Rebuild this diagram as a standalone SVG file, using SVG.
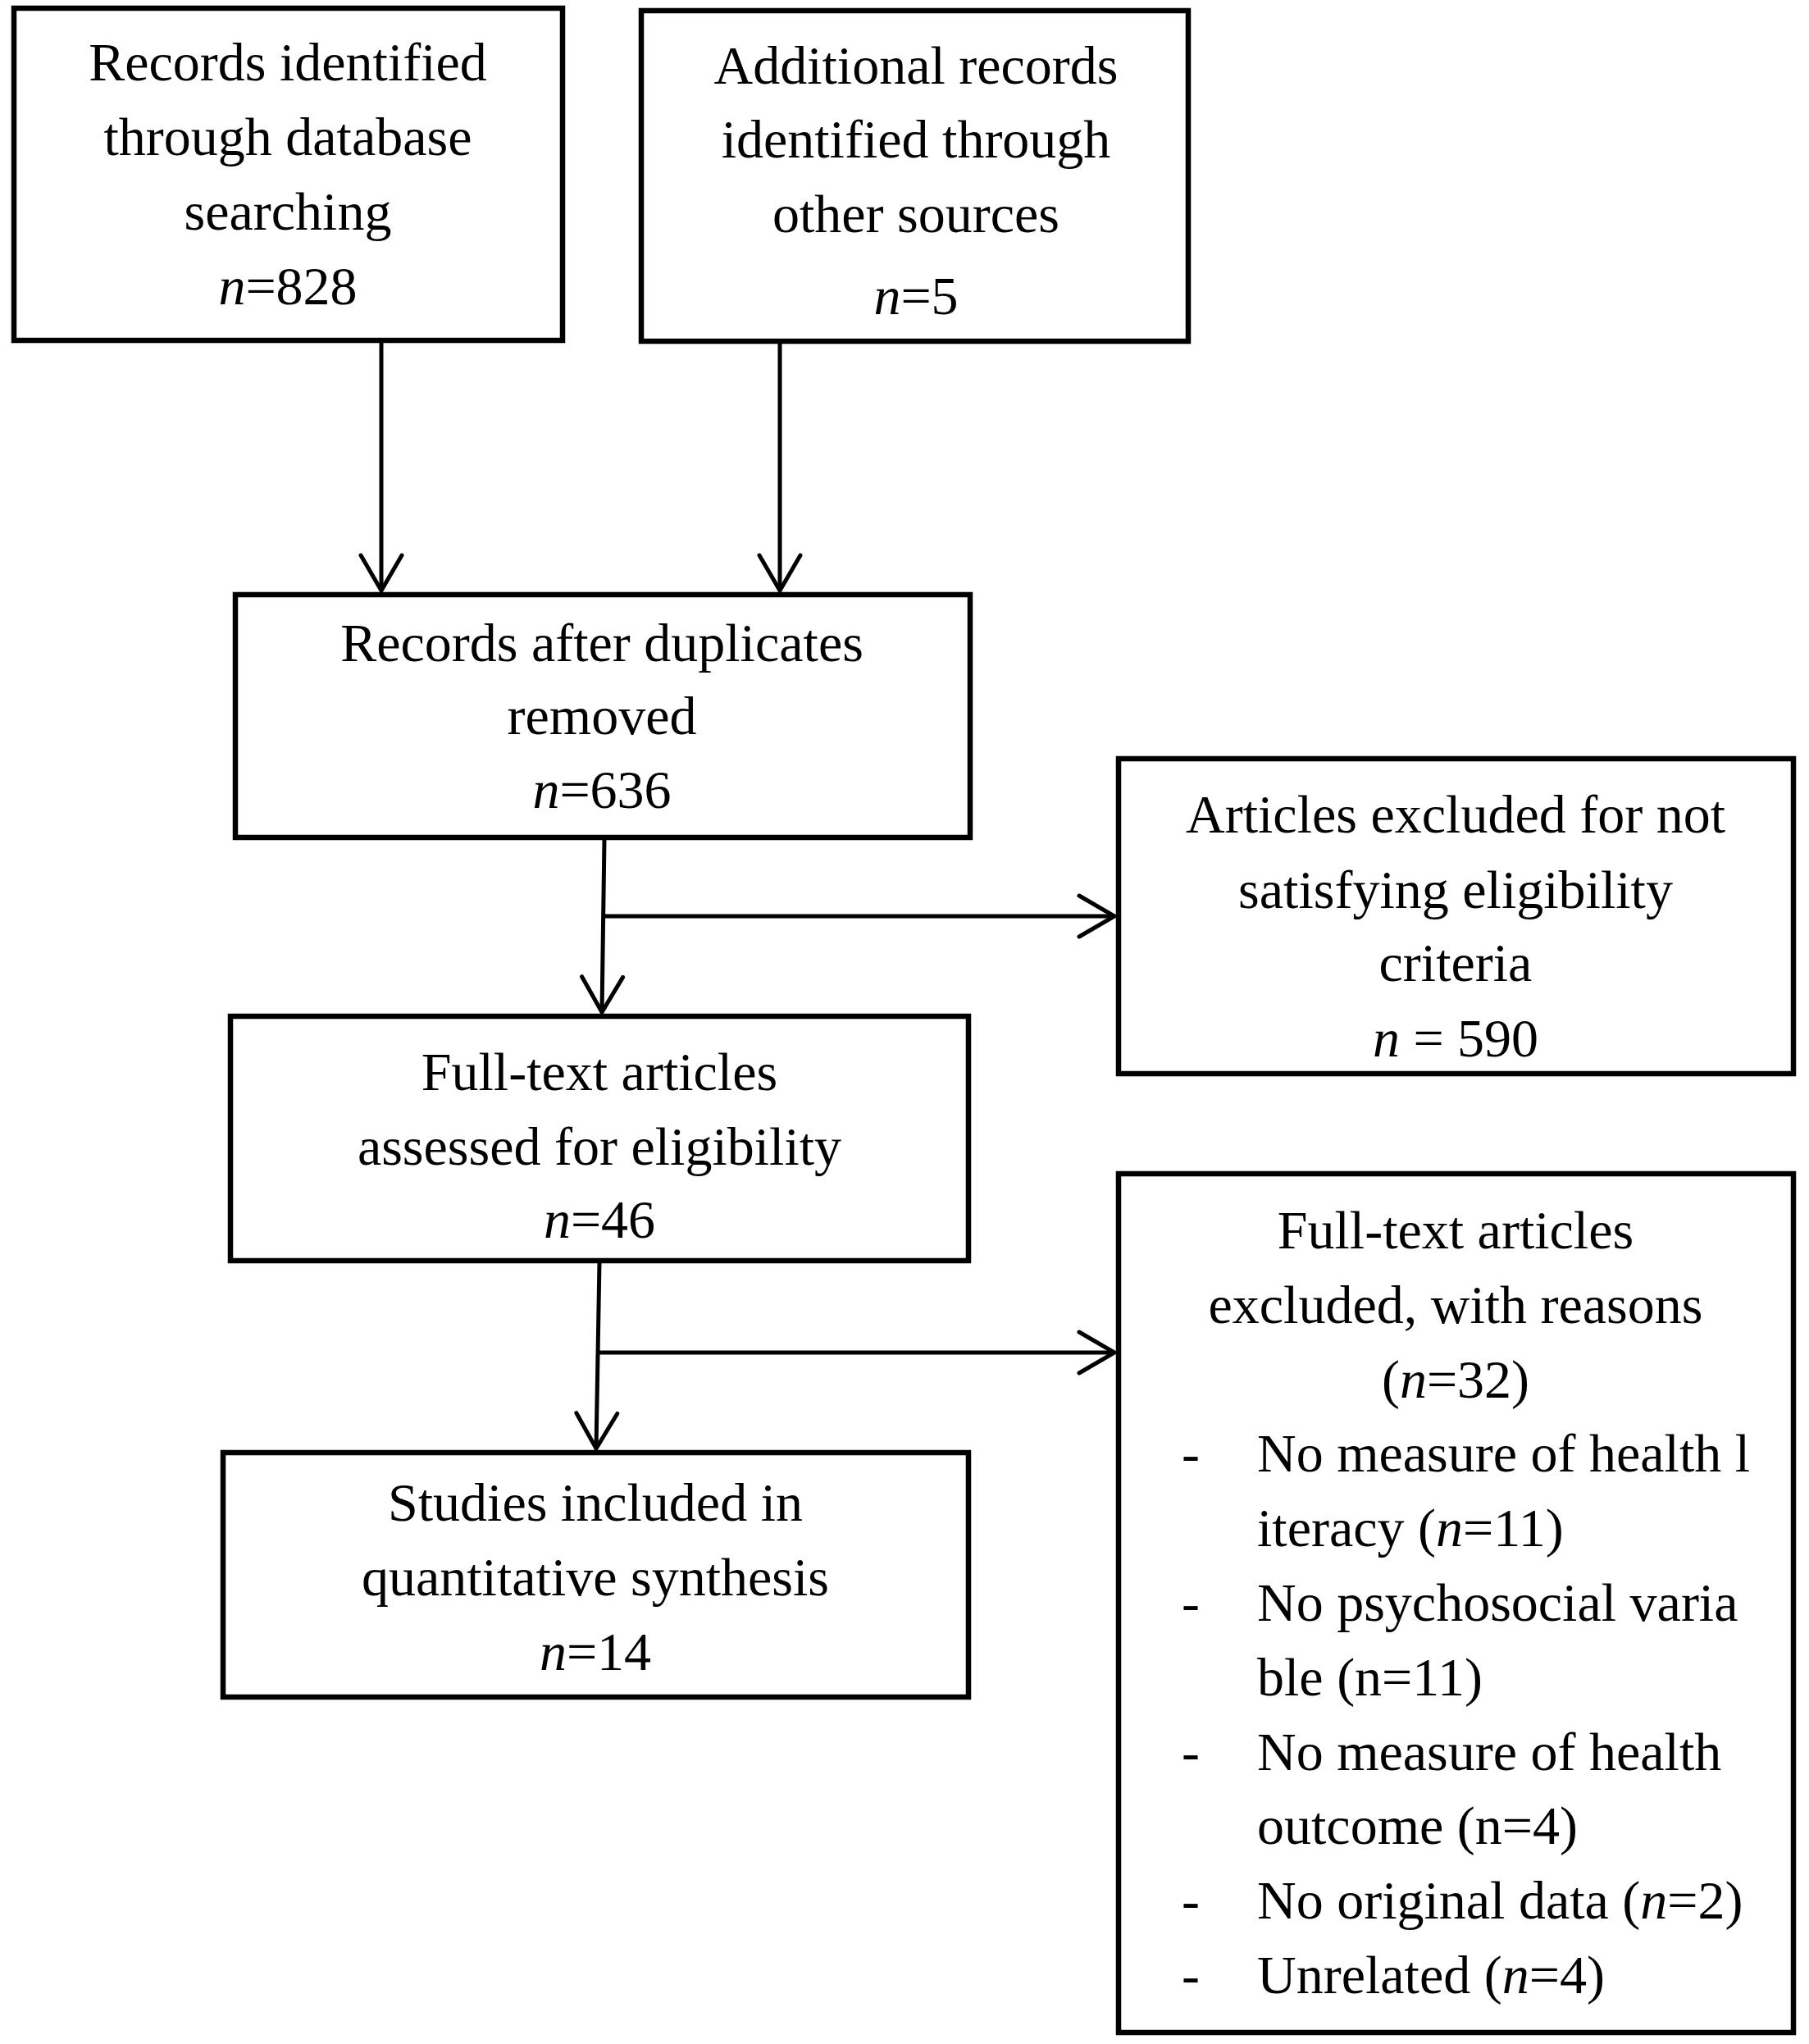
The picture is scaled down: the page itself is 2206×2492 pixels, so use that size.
<svg xmlns="http://www.w3.org/2000/svg" width="2206" height="2492" viewBox="0 0 2206 2492">
<style>
.box{fill:#fff;stroke:#000;stroke-width:6.5}
.t{font-family:"Liberation Serif","Times New Roman",serif;font-size:66px;fill:#000}
.c{text-anchor:middle}
.i{font-style:italic}
.ln{fill:none;stroke:#000;stroke-width:5}
</style>
<defs>
<marker id="ah" markerUnits="userSpaceOnUse" viewBox="-52 -30 60 60" refX="0" refY="0" markerWidth="60" markerHeight="60" orient="auto" overflow="visible">
<path d="M-43,-25 L0,0 L-43,25" fill="none" stroke="#000" stroke-width="5" stroke-linecap="round" stroke-linejoin="miter"/>
</marker>
</defs>
<rect width="2206" height="2492" fill="#fff"/>
<g id="connectors">
<line class="ln" x1="465" y1="418" x2="465" y2="720" marker-end="url(#ah)"/>
<line class="ln" x1="951" y1="418" x2="951" y2="720" marker-end="url(#ah)"/>
<line class="ln" x1="737" y1="1022" x2="734" y2="1234" marker-end="url(#ah)"/>
<line class="ln" x1="737" y1="1117" x2="1359" y2="1117" marker-end="url(#ah)"/>
<line class="ln" x1="731" y1="1538" x2="727" y2="1766" marker-end="url(#ah)"/>
<line class="ln" x1="730" y1="1649" x2="1359" y2="1649" marker-end="url(#ah)"/>
</g>
<g id="n1">
<rect class="box" x="17" y="10" width="669" height="405"/>
<text class="t c" x="351" y="98">Records identified</text>
<text class="t c" x="351" y="189">through database</text>
<text class="t c" x="351" y="280">searching</text>
<text class="t c" x="351" y="371"><tspan class="i">n</tspan>=828</text>
</g>
<g id="n2">
<rect class="box" x="782" y="13" width="667" height="403"/>
<text class="t c" x="1117" y="102">Additional records</text>
<text class="t c" x="1117" y="192">identified through</text>
<text class="t c" x="1117" y="283">other sources</text>
<text class="t c" x="1117" y="383"><tspan class="i">n</tspan>=5</text>
</g>
<g id="n3">
<rect class="box" x="287" y="725" width="896" height="296"/>
<text class="t c" x="734" y="806">Records after duplicates</text>
<text class="t c" x="734" y="895">removed</text>
<text class="t c" x="734" y="985"><tspan class="i">n</tspan>=636</text>
</g>
<g id="n4">
<rect class="box" x="281" y="1239" width="900" height="298"/>
<text class="t c" x="731" y="1329">Full-text articles</text>
<text class="t c" x="731" y="1420">assessed for eligibility</text>
<text class="t c" x="731" y="1509"><tspan class="i">n</tspan>=46</text>
</g>
<g id="n5">
<rect class="box" x="1364" y="925" width="823" height="384"/>
<text class="t c" x="1775" y="1015">Articles excluded for not</text>
<text class="t c" x="1775" y="1107">satisfying eligibility</text>
<text class="t c" x="1775" y="1196">criteria</text>
<text class="t c" x="1775" y="1288"><tspan class="i">n</tspan> = 590</text>
</g>
<g id="n6">
<rect class="box" x="1364" y="1431" width="823" height="1047"/>
<text class="t c" x="1775" y="1522">Full-text articles</text>
<text class="t c" x="1775" y="1613">excluded, with reasons</text>
<text class="t c" x="1775" y="1704">(<tspan class="i">n</tspan>=32)</text>
<text class="t" x="1441" y="1794">-</text>
<text class="t" x="1533" y="1794">No measure of health l</text>
<text class="t" x="1533" y="1885">iteracy (<tspan class="i">n</tspan>=11)</text>
<text class="t" x="1441" y="1976">-</text>
<text class="t" x="1533" y="1976">No psychosocial varia</text>
<text class="t" x="1533" y="2067">ble (n=11)</text>
<text class="t" x="1441" y="2158">-</text>
<text class="t" x="1533" y="2158">No measure of health</text>
<text class="t" x="1533" y="2248">outcome (n=4)</text>
<text class="t" x="1441" y="2339">-</text>
<text class="t" x="1533" y="2339">No original data (<tspan class="i">n</tspan>=2)</text>
<text class="t" x="1441" y="2430">-</text>
<text class="t" x="1533" y="2430">Unrelated (<tspan class="i">n</tspan>=4)</text>
</g>
<g id="n7">
<rect class="box" x="272" y="1771" width="909" height="298"/>
<text class="t c" x="726" y="1854">Studies included in</text>
<text class="t c" x="726" y="1945">quantitative synthesis</text>
<text class="t c" x="726" y="2036"><tspan class="i">n</tspan>=14</text>
</g>
</svg>
